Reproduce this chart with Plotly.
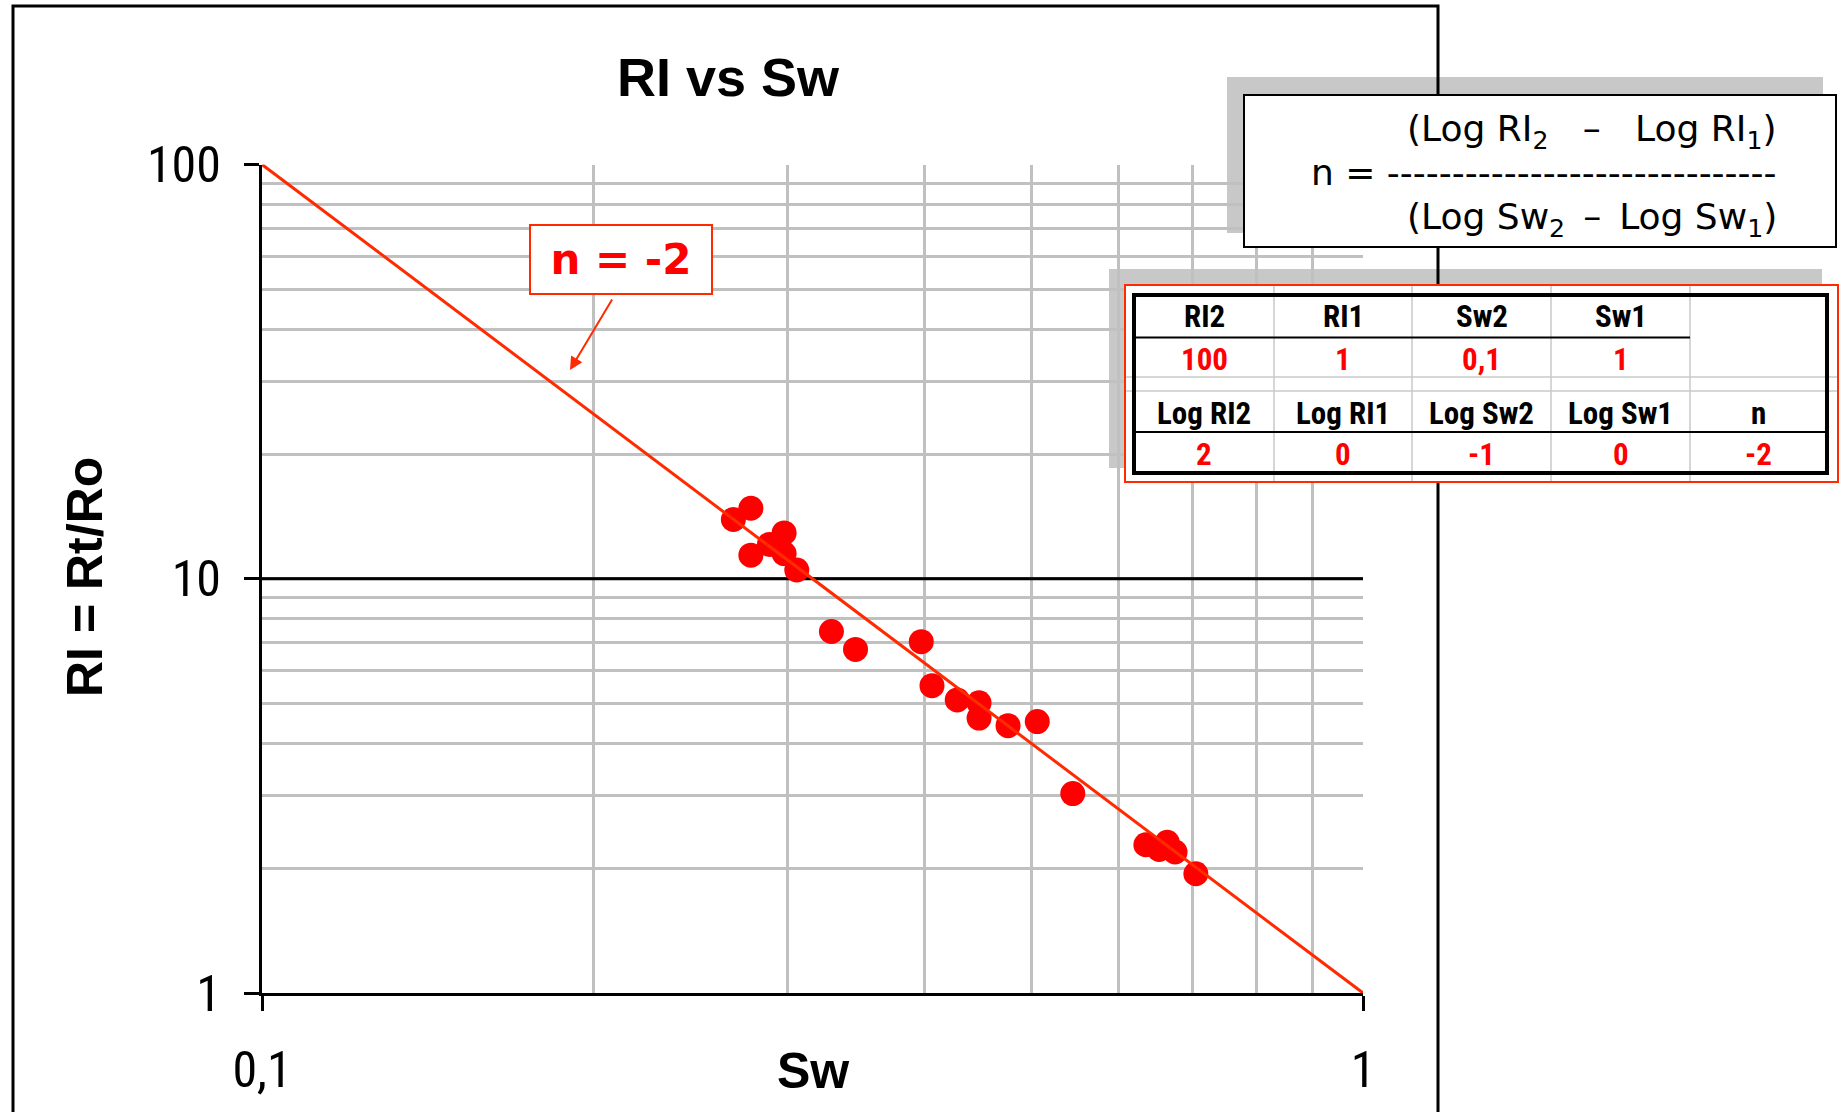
import numpy as np
import plotly.graph_objects as go

W, H = 1845, 1112

# Resistivity index measurements against water saturation
sw = [0.268, 0.278, 0.298, 0.289, 0.278, 0.298, 0.306, 0.329, 0.346, 0.397, 0.406,
      0.428, 0.448, 0.448, 0.476, 0.506, 0.545, 0.635, 0.653, 0.664, 0.675, 0.705]
ri = [13.9, 14.8, 12.9, 12.1, 11.4, 11.5, 10.5, 7.46, 6.75, 7.05, 5.52,
      5.10, 5.02, 4.61, 4.42, 4.52, 3.03, 2.28, 2.22, 2.31, 2.19, 1.94]

# Two points on the fitted line, used for the saturation exponent
ri2, ri1 = 100, 1
sw2, sw1 = 0.1, 1
log_ri2, log_ri1 = np.log10(ri2), np.log10(ri1)
log_sw2, log_sw1 = np.log10(sw2), np.log10(sw1)
n_exp = (log_ri2 - log_ri1) / (log_sw2 - log_sw1)

# Axis ticks
x_ticks = [0.1, 1]
x_tick_text = ["0,1", "1"]
y_ticks = [1, 10, 100]
y_tick_text = ["1", "10", "100"]
x_minor = [0.2, 0.3, 0.4, 0.5, 0.6, 0.7, 0.8, 0.9]
y_minor = [2, 3, 4, 5, 6, 7, 8, 9, 20, 30, 40, 50, 60, 70, 80, 90]

# Table contents
head_top = ["RI2", "RI1", "Sw2", "Sw1", ""]
vals_top = [ri2, ri1, sw2, sw1, None]
head_log = ["Log RI2", "Log RI1", "Log Sw2", "Log Sw1", "n"]
vals_log = [log_ri2, log_ri1, log_sw2, log_sw1, n_exp]


def fmt(v):
    s = f"{v:g}".replace(".", ",")
    return "0" if s == "-0" else s


def px(x):
    return x / W


def py(y):
    return 1 - y / H


NARROW = "Liberation Sans Narrow, Arial Narrow, Roboto Condensed, DejaVu Sans Condensed, sans-serif"
ARIAL = "Liberation Sans, Arial, sans-serif"
VERDANA = "DejaVu Sans, Verdana, sans-serif"
RED = "#ff0000"
LINE_RED = "#ff2a00"
NBSP = "\u00a0"
ENSP = "\u2002"

fig = go.Figure()

# heavy reference line at RI = 10
fig.add_trace(go.Scatter(x=x_ticks, y=[10, 10], mode="lines",
                         line=dict(color="black", width=3), hoverinfo="skip"))
# measured points
fig.add_trace(go.Scatter(x=sw, y=ri, mode="markers",
                         marker=dict(size=25, color=RED, line=dict(width=0))))
# fitted line through the two table points
fig.add_trace(go.Scatter(x=[sw2, sw1], y=[ri2, ri1], mode="lines",
                         line=dict(color=LINE_RED, width=3)))

shapes = []


def rect(x0, y0, x1, y1, fill=None, color=None, width=0, layer="above"):
    shapes.append(dict(type="rect", xref="paper", yref="paper",
                       x0=px(x0), x1=px(x1), y0=py(y1), y1=py(y0),
                       fillcolor=fill if fill else "rgba(0,0,0,0)",
                       line=dict(color=color if color else "rgba(0,0,0,0)", width=width),
                       layer=layer))


def seg(x0, y0, x1, y1, color, width, layer="above"):
    shapes.append(dict(type="line", xref="paper", yref="paper",
                       x0=px(x0), x1=px(x1), y0=py(y0), y1=py(y1),
                       line=dict(color=color, width=width), layer=layer))


# drop shadows, then the outer chart frame
rect(1227, 77, 1823, 233, fill="#c8c8c8", layer="below")
rect(1109, 269, 1822, 468, fill="#c8c8c8", layer="below")
rect(13, 6, 1438, 1140, color="black", width=3, layer="below")

# formula box
rect(1244, 95, 1836, 247, fill="white", color="black", width=2)

# table box
rect(1125, 285, 1838, 482, fill="white", color=LINE_RED, width=2)
col_edges = [1134, 1274, 1412, 1551, 1690, 1827]
for xc in col_edges[1:-1]:
    seg(xc, 286, xc, 481, "#c8c8c8", 1.5)
for yr in [377, 391]:
    seg(1126, yr, 1837, yr, "#c8c8c8", 1.5)
seg(1134, 337.5, 1690, 337.5, "black", 2)
seg(1134, 432, 1827, 432, "black", 2)
rect(1134, 295, 1827, 473, color="black", width=4)

ann = []
cell_font = dict(family=NARROW, size=31)
col_centers = [(a + b) / 2 for a, b in zip(col_edges[:-1], col_edges[1:])]
for i, xc in enumerate(col_centers):
    if head_top[i]:
        ann.append(dict(x=px(xc), y=py(316), text="<b>" + head_top[i] + "</b>",
                        font=dict(cell_font, color="black")))
    if vals_top[i] is not None:
        ann.append(dict(x=px(xc), y=py(359), text="<b>" + fmt(vals_top[i]) + "</b>",
                        font=dict(cell_font, color=RED)))
    ann.append(dict(x=px(xc), y=py(413), text="<b>" + head_log[i] + "</b>",
                    font=dict(cell_font, color="black")))
    ann.append(dict(x=px(xc), y=py(454), text="<b>" + fmt(vals_log[i]) + "</b>",
                    font=dict(cell_font, color=RED)))

# formula text, one line per annotation, right aligned
formula_font = dict(family=VERDANA, size=36, color="black")
gap = NBSP * 3
formula_lines = [
    ("(Log RI<sub>2</sub>" + gap + "–" + gap + "Log RI<sub>1</sub>)", 131),
    ("n = " + "-" * 30, 172),
    ("(Log Sw<sub>2</sub>" + ENSP + "–" + ENSP + "Log Sw<sub>1</sub>)", 219),
]
for txt, yc in formula_lines:
    ann.append(dict(x=px(1779), y=py(yc), text=txt, xanchor="right", font=formula_font))

# exponent label with arrow to the fitted line
ann.append(dict(x=px(570), y=py(370), text="", showarrow=True, ax=43, ay=-72,
                arrowhead=2, arrowsize=1.3, arrowwidth=2, arrowcolor=LINE_RED))
ann.append(dict(x=px(621), y=py(259), text="<b>n = " + fmt(n_exp) + "</b>",
                font=dict(family=VERDANA, size=42, color=RED),
                bgcolor="white", bordercolor=LINE_RED, borderwidth=2, borderpad=0,
                width=180, height=67))

# axis titles
ann.append(dict(x=px(85), y=py(577), text="<b>RI = Rt/Ro</b>", textangle=-90,
                font=dict(family=ARIAL, size=50, color="black")))
ann.append(dict(x=px(813), y=py(1071), text="<b>Sw</b>",
                font=dict(family=ARIAL, size=50, color="black")))

for a in ann:
    a.setdefault("xref", "paper")
    a.setdefault("yref", "paper")
    a.setdefault("showarrow", False)
    a.setdefault("xanchor", "center")
    a.setdefault("yanchor", "middle")

fig.update_layout(
    template="none",
    width=W, height=H,
    margin=dict(l=0, r=0, t=0, b=0),
    paper_bgcolor="white",
    plot_bgcolor="rgba(0,0,0,0)",
    showlegend=False,
    title=dict(text="<b>RI vs Sw</b>", x=px(728), y=py(77), xanchor="center", yanchor="middle",
               xref="paper", yref="paper",
               font=dict(family=ARIAL, size=54, color="black")),
    shapes=shapes,
    annotations=ann,
)

fig.update_xaxes(
    type="log", range=[-1, 0], domain=[px(262), px(1363)],
    tickmode="array", tickvals=x_ticks, ticktext=x_tick_text,
    ticks="outside", ticklen=15, tickwidth=3, tickcolor="black",
    ticklabelstandoff=16,
    tickfont=dict(family=NARROW, size=50, color="black"),
    showline=True, linecolor="black", linewidth=3,
    showgrid=True, gridcolor="#808080", gridwidth=3,
    minor=dict(tickmode="array", tickvals=x_minor, showgrid=True,
               gridcolor="#c0c0c0", gridwidth=2.5, ticks=""),
    zeroline=False, automargin=False, fixedrange=True,
)
fig.update_yaxes(
    type="log", range=[0, 2], domain=[py(993), py(164.5)],
    tickmode="array", tickvals=y_ticks, ticktext=y_tick_text,
    ticks="outside", ticklen=15, tickwidth=3, tickcolor="black",
    ticklabelstandoff=13,
    tickfont=dict(family=NARROW, size=50, color="black"),
    showline=True, linecolor="black", linewidth=3,
    showgrid=True, gridcolor="#808080", gridwidth=3,
    minor=dict(tickmode="array", tickvals=y_minor, showgrid=True,
               gridcolor="#c0c0c0", gridwidth=2.5, ticks=""),
    zeroline=False, automargin=False, fixedrange=True,
)

fig.write_html("out.html")
